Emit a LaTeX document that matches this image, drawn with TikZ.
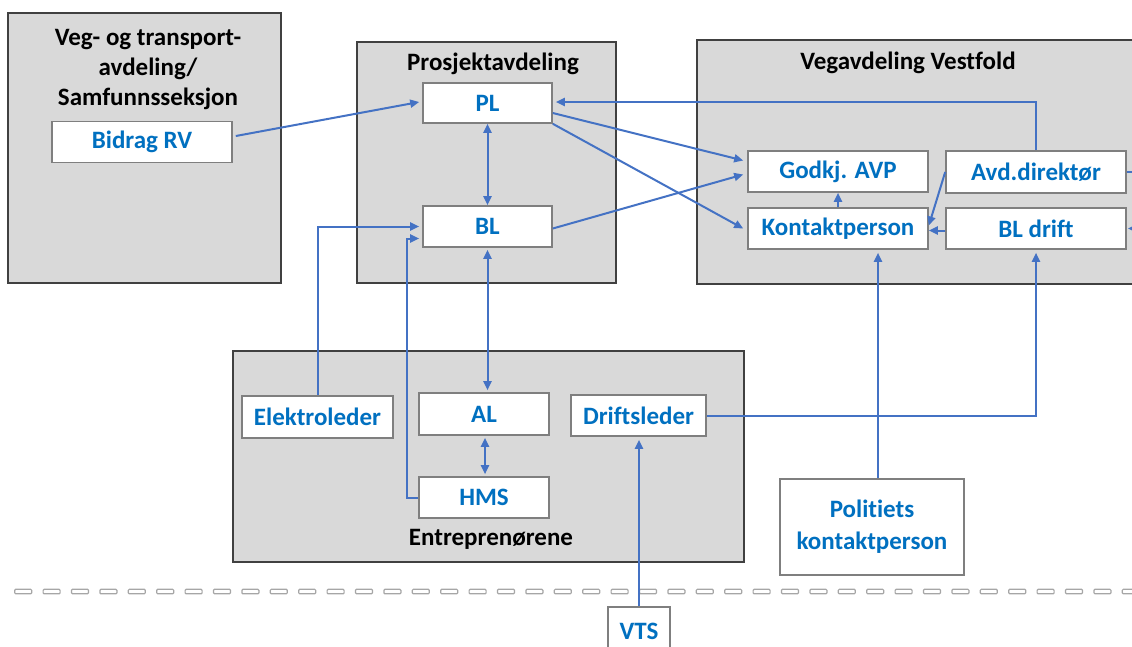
\documentclass[tikz,border=0pt]{standalone}
\usepackage{fontspec}
\setmainfont[Ligatures={NoCommon}]{Carlito}
\usetikzlibrary{arrows.meta,calc}
\definecolor{lblue}{HTML}{4472C4}
\definecolor{tblue}{HTML}{0070C0}
\definecolor{grpfill}{HTML}{D9D9D9}
\definecolor{bxborder}{HTML}{7F7F7F}
\definecolor{grpborder}{HTML}{404040}
\definecolor{dashgray}{HTML}{A6A6A6}
\tikzset{
  grp/.style={draw=grpborder, fill=grpfill, line width=1.6pt},
  ttl/.style={font=\bfseries\fontsize{25}{30}\selectfont, text=black, align=center, inner sep=0pt},
  wbox/.style={draw=bxborder, fill=white, line width=1.6pt, text=tblue,
    font=\bfseries\fontsize{25}{32}\selectfont, align=center, inner sep=0pt},
  conn/.style={draw=lblue, line width=2pt, -{Triangle[length=9pt,width=8pt]}},
  bconn/.style={draw=lblue, line width=2pt, {Triangle[length=9pt,width=8pt]}-{Triangle[length=9pt,width=8pt]}},
  plain/.style={draw=lblue, line width=2pt},
  dashbox/.style={draw=dashgray, fill=white, line width=1.2pt, rounded corners=1pt}
}
\begin{document}
\begin{tikzpicture}[x=1pt,y=-1pt]
\useasboundingbox (0,0) rectangle (1132,646);
\clip (0,0) rectangle (1132,646);
% group boxes
\draw[grp] (8,13) rectangle (281,283);
\draw[grp] (357,42) rectangle (616,283);
\draw[grp] (697,40) rectangle (1145,284);
\draw[grp] (233,351) rectangle (744,562);
% titles
\node[ttl] (t1) at (148,70) {Veg- og transport-\\avdeling/\\Samfunnsseksjon};
\node[ttl] (t2) at (493,64) {Prosjektavdeling};
\node[ttl] (t3) at (908,63) {Vegavdeling Vestfold};
\node[ttl] (t4) at (491,539) {Entreprenørene};
% dashed boundary
\foreach \k in {0,...,39} {
  \draw[dashbox] ({14.7+\k*28.4},589.3) rectangle ++(17,4.5);
}
% boxes
\node[wbox, minimum width=180pt, minimum height=41pt] (br) at (142,142) {Bidrag RV};
\node[wbox, minimum width=129pt, minimum height=40pt] (pl) at (487.5,103) {PL};
\node[wbox, minimum width=129pt, minimum height=41pt] (bl) at (487.5,226.5) {BL};
\node[wbox, minimum width=180pt, minimum height=41pt] (ga) at (838,171.5) {Godkj. AVP};
\node[wbox, minimum width=180pt, minimum height=41pt] (kp) at (838,228.5) {Kontaktperson};
\node[wbox, minimum width=180pt, minimum height=42pt] (ad) at (1036,172) {Avd.direktør};
\node[wbox, minimum width=180pt, minimum height=41pt] (bld) at (1036,228.5) {BL drift};
\node[wbox, minimum width=151pt, minimum height=42pt] (el) at (317.5,417) {Elektroleder};
\node[wbox, minimum width=130pt, minimum height=42pt] (al) at (484,414) {AL};
\node[wbox, minimum width=130pt, minimum height=41pt] (hms) at (484,497.5) {HMS};
\node[wbox, minimum width=135pt, minimum height=41pt] (ds) at (638.5,415.5) {Driftsleder};
\node[wbox, minimum width=184pt, minimum height=96pt] (pk) at (872,527) {Politiets\\kontaktperson};
\node[wbox, minimum width=62pt, minimum height=58pt, anchor=north] (vts) at (639,606) {};
\node[text=tblue, font=\bfseries\fontsize{25}{30}\selectfont, inner sep=0pt] (vtst) at (639,631) {VTS};
% connectors
\draw[conn] ($(br.east)+(3,-6)$) -- ($(pl.west)+(-3,-1)$);
\draw[bconn] (pl.south) -- (bl.north);
\draw[conn] ($(pl.east)+(0,10)$) -- ($(ga.west)+(-4,-11)$);
\draw[conn] (pl.south east) -- ($(kp.west)+(-4,0)$);
\draw[conn] ($(bl.east)+(0,2)$) -- ($(ga.west)+(-4,3)$);
\draw[conn] (ad.north) |- ($(pl.east)+(3,-1)$);
\draw[conn] (ad.west) -- ($(kp.east)+(0,-3)$);
\draw[conn] ($(bld.west)+(0,2)$) -- ($(kp.east)+(0,2)$);
\draw[conn] (kp.north) -- (ga.south);
\coordinate (r1) at (1140,172);
\coordinate (r2) at (1140,228.5);
\draw[plain] (ad.east) -- (r1);
\draw[conn] (r2) -- ($(bld.east)+(1,0)$);
\draw[conn] ([xshift=6pt]pk.north) -- ($(kp.south)+(40,3)$);
\draw[conn] (ds.east) -| ($(bld.south)+(0,3)$);
\draw[conn] (el.north) |- ($(bl.west)+(-3,0)$);
\coordinate (hb) at ($(hms.west)+(-11,0)$);
\draw[conn] (hms.west) -- (hb) |- ($(bl.west)+(-3,12)$);
\draw[bconn] ($(bl.south)+(0,2)$) -- ($(bl.south |- al.north)+(0,-2)$);
\draw[bconn] ($(al.south)+(1,2)$) -- ($(hms.north)+(1,-2)$);
\draw[conn] (vts.north) -- ($(vts.north |- ds.south)+(0,3)$);
\end{tikzpicture}
\end{document}
